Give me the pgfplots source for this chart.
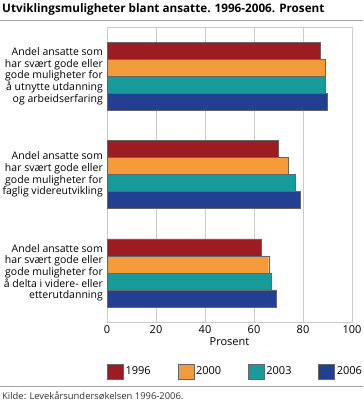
\documentclass[border=0pt]{standalone}
\usepackage{pgfplots}
\pgfplotsset{compat=1.18}
\usepackage{fontspec}
\setmainfont{Open Sans}
\definecolor{c1996}{HTML}{9B1C22}
\definecolor{c2000}{HTML}{F39A3A}
\definecolor{c2003}{HTML}{169A9A}
\definecolor{c2006}{HTML}{233F92}
\begin{document}
\begin{tikzpicture}[x=1pt,y=1pt]
\useasboundingbox (0,0) rectangle (363,403);
\node[anchor=west, font=\bfseries\fontsize{11.7}{13}\selectfont, inner sep=0] at (2,394) {Utviklingsmuligheter blant ansatte. 1996-2006. Prosent};
\draw[gray!70, line width=0.8pt] (0,383) -- (363,383);
\draw[gray!70, line width=0.8pt] (0,17) -- (363,17);
\node[anchor=west, font=\fontsize{9.4}{11}\selectfont, inner sep=0, text=black!80] at (2,7) {Kilde: Levekårsundersøkelsen 1996-2006.};
\begin{axis}[
  at={(107pt,81pt)}, anchor=south west,
  scale only axis, width=245pt, height=295pt,
  xbar=0pt, bar width=17pt,
  xmin=0, xmax=100, ymin=0.5, ymax=3.5, y dir=reverse,
  ytick={1,2,3},
  yticklabels={{Andel ansatte som\\har svært gode eller\\gode muligheter for\\å utnytte utdanning\\og arbeidserfaring},
               {Andel ansatte som\\har svært gode eller\\gode muligheter for\\faglig videreutvikling},
               {Andel ansatte som\\har svært gode eller\\gode muligheter for\\å delta i videre- eller\\etterutdanning}},
  yticklabel style={align=right, font=\fontsize{10.5}{11.7}\selectfont, inner sep=0pt, xshift=-4pt},
  xtick={0,20,...,100},
  xticklabel style={font=\fontsize{11}{13}\selectfont},
  /pgf/number format/assume math mode=true,
  xlabel={Prosent},
  xlabel style={font=\fontsize{11}{13}\selectfont, yshift=3pt},
  xmajorgrids, grid style={draw=black!20, line width=0.7pt},
  axis line style={draw=black!20, line width=0.7pt},
  major tick length=0pt,
  legend columns=4,
  reverse legend,
  legend style={at={(0,-0.168)}, anchor=west, draw=none, inner sep=0pt,
    font=\fontsize{11}{13}\selectfont, nodes={inner sep=0pt},
    /tikz/every even column/.append style={column sep=0pt}},
  legend image code/.code={\draw[#1, draw=black!60] (0pt,-7.5pt) rectangle (16pt,7.5pt);},
  every axis plot/.append style={draw=black!60, line width=0.4pt},
]
\addplot[fill=c2006] coordinates {(90,1) (79,2) (69,3)};
\addplot[fill=c2003] coordinates {(89,1) (77,2) (67,3)};
\addplot[fill=c2000] coordinates {(89,1) (74,2) (66,3)};
\addplot[fill=c1996] coordinates {(87,1) (70,2) (63,3)};
\legend{\hspace{2pt}\makebox[52pt][l]{2006},\hspace{2pt}\makebox[52pt][l]{2003},\hspace{2pt}\makebox[52pt][l]{2000},\hspace{2pt}\makebox[52pt][l]{1996}}
\end{axis}
\end{tikzpicture}
\end{document}
